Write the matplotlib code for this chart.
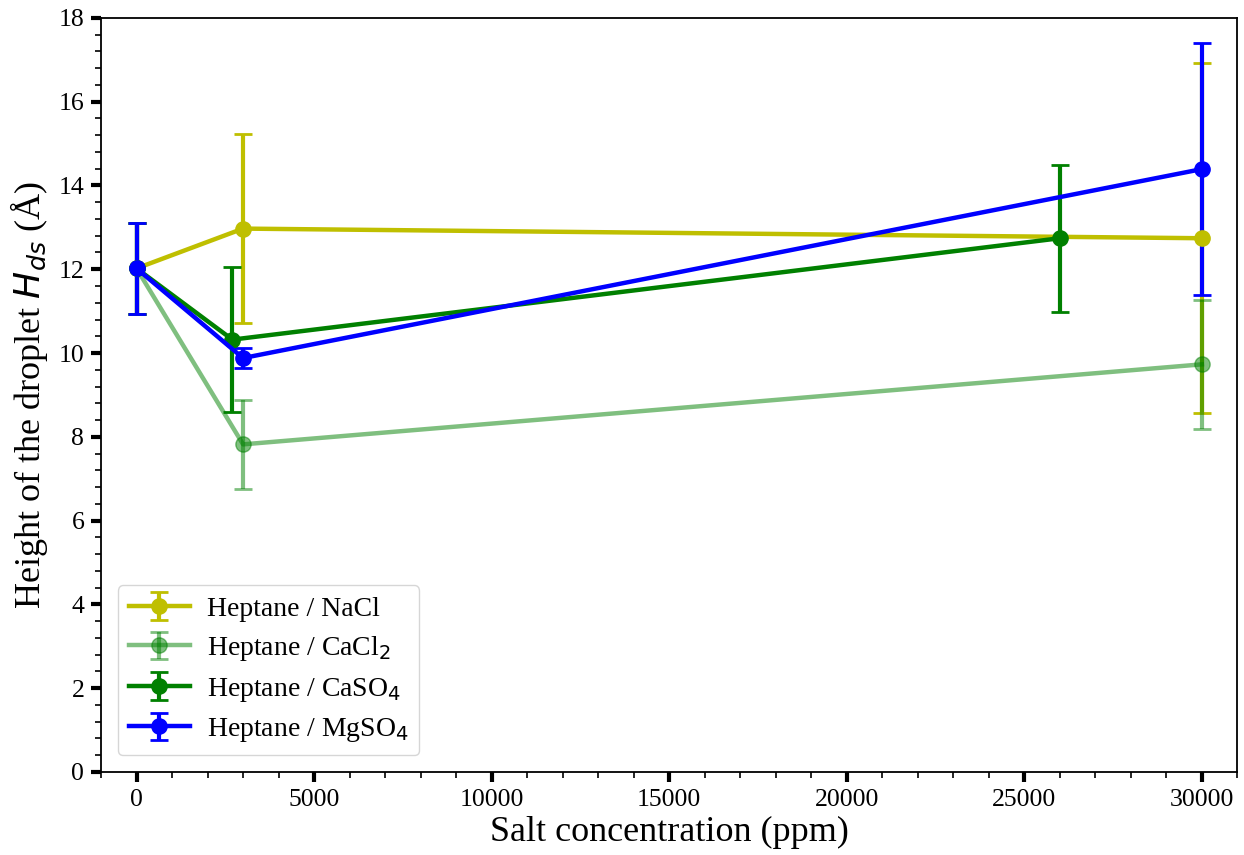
import matplotlib
matplotlib.use("Agg")
import matplotlib.pyplot as plt
from matplotlib.ticker import MultipleLocator

plt.rcParams['font.family'] = ['Liberation Serif', 'DejaVu Serif']

# droplet height vs salt concentration, heptane with different salts
nacl_x = [0, 3000, 30000]
nacl_y = [12.02, 12.97, 12.74]
nacl_err = [1.08, 2.25, 4.18]

cacl2_x = [0, 3000, 30000]
cacl2_y = [12.02, 7.82, 9.73]
cacl2_err = [1.08, 1.06, 1.54]

caso4_x = [0, 2700, 26000]
caso4_y = [12.02, 10.32, 12.74]
caso4_err = [1.08, 1.73, 1.75]

mgso4_x = [0, 3000, 30000]
mgso4_y = [12.02, 9.88, 14.39]
mgso4_err = [1.08, 0.24, 3.0]

fig = plt.figure(figsize=(12.44, 8.55), dpi=100)
ax = fig.add_axes([0.0812, 0.0971, 0.9135, 0.882])

style = dict(marker='o', markersize=11, linewidth=3.2, capsize=6.5, capthick=2, elinewidth=3)
ax.errorbar(nacl_x, nacl_y, yerr=nacl_err, color='y', label='Heptane / NaCl', **style)
ax.errorbar(cacl2_x, cacl2_y, yerr=cacl2_err, color='g', alpha=0.5, label='Heptane / CaCl$_2$', **style)
ax.errorbar(caso4_x, caso4_y, yerr=caso4_err, color='g', label='Heptane / CaSO$_4$', **style)
ax.errorbar(mgso4_x, mgso4_y, yerr=mgso4_err, color='b', label='Heptane / MgSO$_4$', **style)

ax.set_xlim(-1000, 31000)
ax.set_ylim(0, 18)
ax.xaxis.set_major_locator(MultipleLocator(5000))
ax.xaxis.set_minor_locator(MultipleLocator(1000))
ax.yaxis.set_major_locator(MultipleLocator(2))
ax.yaxis.set_minor_locator(MultipleLocator(0.4))
ax.tick_params(which='major', direction='out', length=7, width=3, labelsize=18.5, pad=5)
ax.tick_params(which='minor', direction='out', length=4, width=1.2)
for sp in ax.spines.values():
    sp.set_linewidth(1.3)

ax.set_xlabel('Salt concentration (ppm)', fontsize=26, labelpad=4)
ax.set_ylabel('Height of the droplet $H_{ds}$ (Å)', fontsize=26, labelpad=6)
ax.legend(loc='lower left', fontsize=20, borderaxespad=0.6, handlelength=2.2,
          labelspacing=0.45, handletextpad=0.6)

fig.savefig('out.png', dpi=100)
